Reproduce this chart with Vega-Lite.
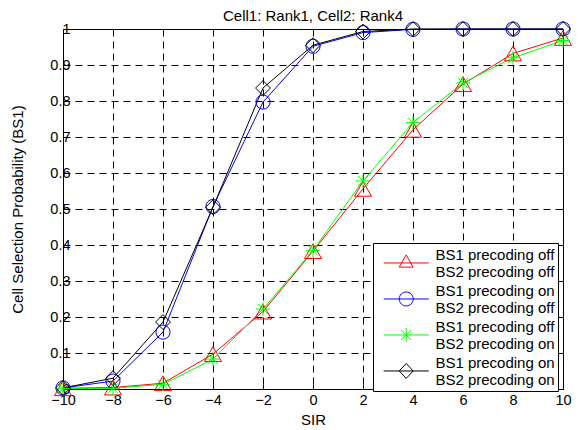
{
  "$schema": "https://vega.github.io/schema/vega-lite/v6.json",
  "width": 500,
  "height": 360,
  "autosize": "none",
  "padding": {"left": 63, "top": 29, "right": 16, "bottom": 41},
  "background": "white",
  "title": {"text": "Cell1: Rank1, Cell2: Rank4", "font": "Liberation Sans", "fontSize": 15, "fontWeight": "normal", "color": "black", "anchor": "middle", "frame": "group", "baseline": "alphabetic", "offset": -16},
  "config": {
    "font": "Liberation Sans",
    "view": {"stroke": "black", "strokeWidth": 1},
    "axis": {"labelFont": "Liberation Sans", "titleFont": "Liberation Sans", "labelColor": "black", "titleColor": "black", "labelFontSize": 14.5, "titleFontSize": 15, "titleFontWeight": "normal", "domainColor": "black", "tickColor": "black", "gridColor": "black", "gridOpacity": 1, "gridDash": [7, 5], "gridWidth": 1}
  },
  "data": {"values": [
    {"sir": -10, "p": 0.002, "series": "BS1 precoding off|BS2 precoding off"},
    {"sir": -8, "p": 0.004, "series": "BS1 precoding off|BS2 precoding off"},
    {"sir": -6, "p": 0.016, "series": "BS1 precoding off|BS2 precoding off"},
    {"sir": -4, "p": 0.097, "series": "BS1 precoding off|BS2 precoding off"},
    {"sir": -2, "p": 0.215, "series": "BS1 precoding off|BS2 precoding off"},
    {"sir": 0, "p": 0.383, "series": "BS1 precoding off|BS2 precoding off"},
    {"sir": 2, "p": 0.556, "series": "BS1 precoding off|BS2 precoding off"},
    {"sir": 4, "p": 0.72, "series": "BS1 precoding off|BS2 precoding off"},
    {"sir": 6, "p": 0.847, "series": "BS1 precoding off|BS2 precoding off"},
    {"sir": 8, "p": 0.932, "series": "BS1 precoding off|BS2 precoding off"},
    {"sir": 10, "p": 0.975, "series": "BS1 precoding off|BS2 precoding off"},
    {"sir": -10, "p": 0.003, "series": "BS1 precoding on|BS2 precoding off"},
    {"sir": -8, "p": 0.022, "series": "BS1 precoding on|BS2 precoding off"},
    {"sir": -6, "p": 0.158, "series": "BS1 precoding on|BS2 precoding off"},
    {"sir": -4, "p": 0.507, "series": "BS1 precoding on|BS2 precoding off"},
    {"sir": -2, "p": 0.797, "series": "BS1 precoding on|BS2 precoding off"},
    {"sir": 0, "p": 0.952, "series": "BS1 precoding on|BS2 precoding off"},
    {"sir": 2, "p": 0.99, "series": "BS1 precoding on|BS2 precoding off"},
    {"sir": 4, "p": 0.999, "series": "BS1 precoding on|BS2 precoding off"},
    {"sir": 6, "p": 1.0, "series": "BS1 precoding on|BS2 precoding off"},
    {"sir": 8, "p": 1.0, "series": "BS1 precoding on|BS2 precoding off"},
    {"sir": 10, "p": 1.0, "series": "BS1 precoding on|BS2 precoding off"},
    {"sir": -10, "p": 0.001, "series": "BS1 precoding off|BS2 precoding on"},
    {"sir": -8, "p": 0.002, "series": "BS1 precoding off|BS2 precoding on"},
    {"sir": -6, "p": 0.013, "series": "BS1 precoding off|BS2 precoding on"},
    {"sir": -4, "p": 0.083, "series": "BS1 precoding off|BS2 precoding on"},
    {"sir": -2, "p": 0.222, "series": "BS1 precoding off|BS2 precoding on"},
    {"sir": 0, "p": 0.385, "series": "BS1 precoding off|BS2 precoding on"},
    {"sir": 2, "p": 0.578, "series": "BS1 precoding off|BS2 precoding on"},
    {"sir": 4, "p": 0.74, "series": "BS1 precoding off|BS2 precoding on"},
    {"sir": 6, "p": 0.85, "series": "BS1 precoding off|BS2 precoding on"},
    {"sir": 8, "p": 0.92, "series": "BS1 precoding off|BS2 precoding on"},
    {"sir": 10, "p": 0.968, "series": "BS1 precoding off|BS2 precoding on"},
    {"sir": -10, "p": 0.003, "series": "BS1 precoding on|BS2 precoding on"},
    {"sir": -8, "p": 0.03, "series": "BS1 precoding on|BS2 precoding on"},
    {"sir": -6, "p": 0.186, "series": "BS1 precoding on|BS2 precoding on"},
    {"sir": -4, "p": 0.505, "series": "BS1 precoding on|BS2 precoding on"},
    {"sir": -2, "p": 0.836, "series": "BS1 precoding on|BS2 precoding on"},
    {"sir": 0, "p": 0.955, "series": "BS1 precoding on|BS2 precoding on"},
    {"sir": 2, "p": 0.993, "series": "BS1 precoding on|BS2 precoding on"},
    {"sir": 4, "p": 1.0, "series": "BS1 precoding on|BS2 precoding on"},
    {"sir": 6, "p": 1.0, "series": "BS1 precoding on|BS2 precoding on"},
    {"sir": 8, "p": 1.0, "series": "BS1 precoding on|BS2 precoding on"},
    {"sir": 10, "p": 1.0, "series": "BS1 precoding on|BS2 precoding on"}
  ]},
  "resolve": {"axis": {"x": "independent", "y": "independent"}},
  "layer": [
    {
      "mark": {"type": "point", "filled": false, "opacity": 0, "strokeWidth": 1},
      "encoding": {
        "x": {"field": "sir", "type": "quantitative", "scale": {"domain": [-10, 10], "nice": false, "zero": false}, "axis": {"orient": "top", "labels": false, "title": null, "grid": false, "domain": false, "tickSize": -5, "values": [-10, -8, -6, -4, -2, 0, 2, 4, 6, 8, 10]}},
        "y": {"field": "p", "type": "quantitative", "scale": {"domain": [0, 1], "nice": false}, "axis": {"orient": "right", "labels": false, "title": null, "grid": false, "domain": false, "tickSize": -5, "values": [0, 0.1, 0.2, 0.3, 0.4, 0.5, 0.6, 0.7, 0.8, 0.9, 1]}},
        "color": {"field": "series", "type": "nominal",
          "scale": {"domain": ["BS1 precoding off|BS2 precoding off", "BS1 precoding on|BS2 precoding off", "BS1 precoding off|BS2 precoding on", "BS1 precoding on|BS2 precoding on"], "range": ["#ff0000", "#0000ff", "#00ff00", "#000000"]},
          "legend": {"title": null, "orient": "none", "legendX": 310, "legendY": 214, "direction": "vertical",
            "fillColor": "white", "strokeColor": "black", "cornerRadius": 0, "padding": 3,
            "symbolSize": 276, "symbolOpacity": 1, "symbolStrokeWidth": 1, "symbolOffset": 21.2,
            "labelFont": "Liberation Sans", "labelFontSize": 15, "labelColor": "black", "labelLimit": 0, "labelOffset": 20.2,
            "labelExpr": "split(datum.label, '|')", "rowPadding": 2}},
        "shape": {"field": "series", "type": "nominal",
          "scale": {"domain": ["BS1 precoding off|BS2 precoding off", "BS1 precoding on|BS2 precoding off", "BS1 precoding off|BS2 precoding on", "BS1 precoding on|BS2 precoding on"],
            "range": [
              "M-2.71,0.96H2.71M-0.84,1.46L0,-0.01L0.84,1.46Z",
              "M-2.71,0.96H2.71M-0.84,0.96A0.84,0.84 0 1,0 0.84,0.96A0.84,0.84 0 1,0 -0.84,0.96Z",
              "M-2.71,0.96H2.71M0,0.12V1.8M-0.6,0.36L0.6,1.56M-0.6,1.56L0.6,0.36",
              "M-2.71,0.96H2.71M-0.84,0.96L0,0.06L0.84,0.96L0,1.86Z"]}}
      }
    },
    {
      "mark": {"type": "line", "strokeWidth": 1, "clip": false},
      "encoding": {
        "x": {"field": "sir", "type": "quantitative",
          "axis": {"orient": "bottom", "title": "SIR", "values": [-10, -8, -6, -4, -2, 0, 2, 4, 6, 8, 10], "grid": true, "tickSize": -5, "labelPadding": 9, "titlePadding": 6, "domain": false, "labelFlush": false}},
        "y": {"field": "p", "type": "quantitative",
          "axis": {"orient": "left", "title": "Cell Selection Probability (BS1)", "values": [0, 0.1, 0.2, 0.3, 0.4, 0.5, 0.6, 0.7, 0.8, 0.9, 1], "format": "~g", "grid": true, "tickSize": -5, "labelPadding": -2, "titlePadding": 24, "domain": false, "labelFlush": false}},
        "color": {"field": "series", "type": "nominal", "legend": null}
      }
    },
    {
      "transform": [{"filter": "datum.series === 'BS1 precoding off|BS2 precoding off'"}],
      "mark": {"type": "point", "shape": "triangle-up", "filled": false, "size": 290, "strokeWidth": 1, "color": "#ff0000", "opacity": 1, "clip": false},
      "encoding": {"x": {"field": "sir", "type": "quantitative", "axis": null}, "y": {"field": "p", "type": "quantitative", "axis": null}}
    },
    {
      "transform": [{"filter": "datum.series === 'BS1 precoding on|BS2 precoding off'"}],
      "mark": {"type": "point", "shape": "circle", "filled": false, "size": 200, "strokeWidth": 1, "color": "#0000ff", "opacity": 1, "clip": false},
      "encoding": {"x": {"field": "sir", "type": "quantitative", "axis": null}, "y": {"field": "p", "type": "quantitative", "axis": null}}
    },
    {
      "transform": [{"filter": "datum.series === 'BS1 precoding off|BS2 precoding on'"}],
      "mark": {"type": "point", "shape": "M-1,0H1M0,-1V1M-0.7,-0.7L0.7,0.7M-0.7,0.7L0.7,-0.7", "filled": false, "size": 196, "strokeWidth": 1, "color": "#00ff00", "opacity": 1, "clip": false},
      "encoding": {"x": {"field": "sir", "type": "quantitative", "axis": null}, "y": {"field": "p", "type": "quantitative", "axis": null}}
    },
    {
      "transform": [{"filter": "datum.series === 'BS1 precoding on|BS2 precoding on'"}],
      "mark": {"type": "point", "shape": "diamond", "filled": false, "size": 220, "strokeWidth": 1, "color": "#000000", "opacity": 1, "clip": false},
      "encoding": {"x": {"field": "sir", "type": "quantitative", "axis": null}, "y": {"field": "p", "type": "quantitative", "axis": null}}
    }
  ]
}
